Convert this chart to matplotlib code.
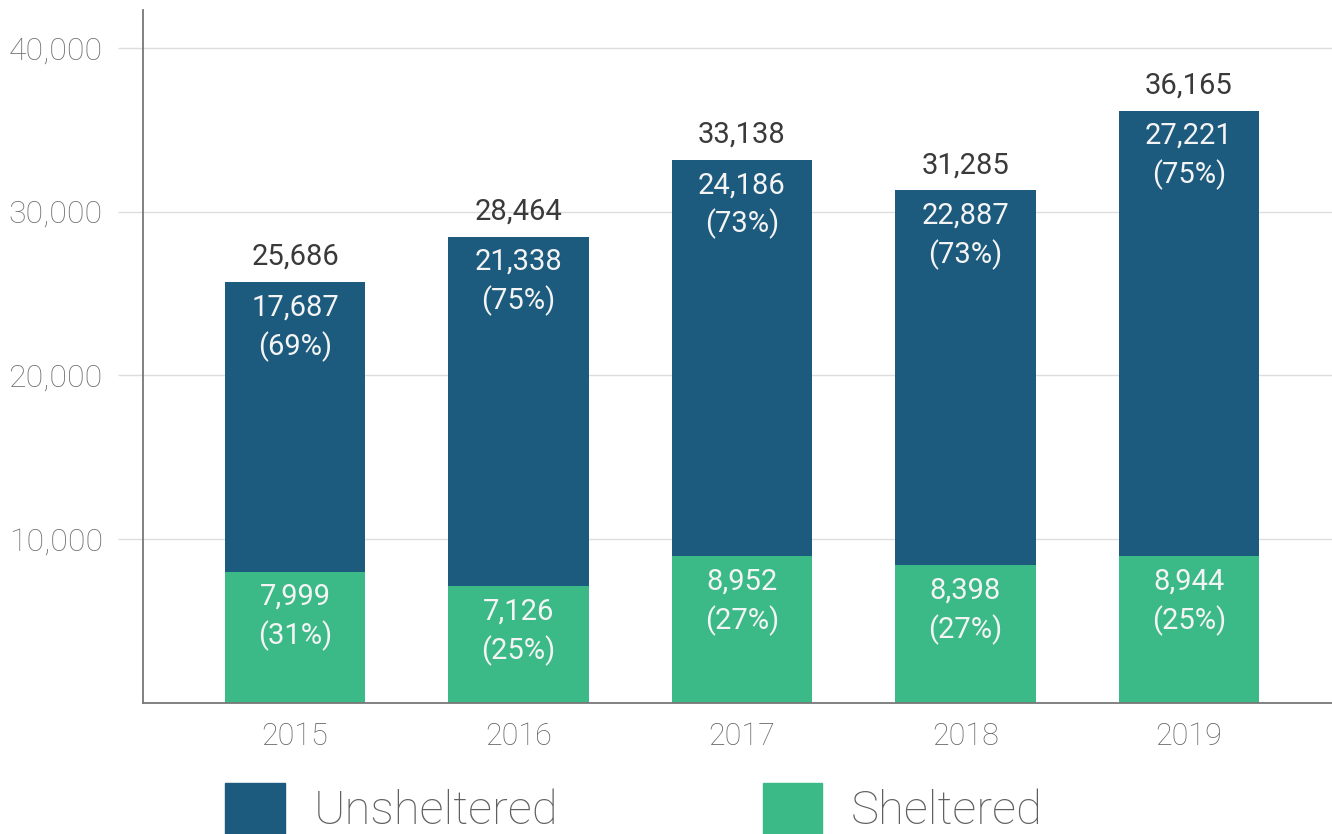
import numpy as np
import matplotlib
matplotlib.use("Agg")
import matplotlib.pyplot as plt
from matplotlib.patches import Patch

plt.rcParams['font.family'] = ['Roboto', 'DejaVu Sans']

# данные
years = ['2015', '2016', '2017', '2018', '2019']
sheltered = np.array([7999, 7126, 8952, 8398, 8944])
unsheltered = np.array([17687, 21338, 24186, 22887, 27221])
totals = sheltered + unsheltered

c_unsh = '#1d5b7e'
c_sh = '#3bba88'
grey = '#777777'

fig = plt.figure(figsize=(13.32, 8.34), dpi=100)
ax = fig.add_axes([0.1074, 0.1571, 0.8926, 0.8309])

x = np.arange(len(years))
w = 0.627
ax.bar(x, sheltered, w, color=c_sh, zorder=2)
ax.bar(x, unsheltered, w, bottom=sheltered, color=c_unsh, zorder=2)

# подписи внутри столбцов и сверху
for i in range(len(years)):
    p_sh = round(sheltered[i] / totals[i] * 100)
    p_un = round(unsheltered[i] / totals[i] * 100)
    ax.annotate(f'{unsheltered[i]:,}\n({p_un}%)', (x[i], totals[i]),
                xytext=(0, -8), textcoords='offset points', ha='center', va='top',
                color='#f4f4f4', fontsize=21, fontweight='normal', linespacing=1.4)
    ax.annotate(f'{sheltered[i]:,}\n({p_sh}%)', (x[i], sheltered[i]),
                xytext=(0, -8), textcoords='offset points', ha='center', va='top',
                color='#f4f4f4', fontsize=21, fontweight='normal', linespacing=1.4)
    ax.annotate(f'{totals[i]:,}', (x[i], totals[i]),
                xytext=(0, 8), textcoords='offset points', ha='center', va='bottom',
                color='#3a3a3a', fontsize=21, fontweight='normal')

ax.set_xlim(-0.68, 4.64)
ax.set_ylim(0, 42300)
ax.set_xticks(x)
ax.set_xticklabels(years)
ax.set_yticks([10000, 20000, 30000, 40000])
ax.set_yticklabels([f'{v:,}' for v in [10000, 20000, 30000, 40000]])
ax.grid(axis='y', color='#dddddd', linewidth=1, zorder=0)
ax.tick_params(axis='y', length=18, color='#dddddd', width=1, pad=11,
               labelsize=23, labelcolor='#707070')
ax.tick_params(axis='x', length=0, pad=14, labelsize=22, labelcolor='#666666')
for lbl in ax.get_xticklabels() + ax.get_yticklabels():
    lbl.set_fontweight('light')

for s in ['top', 'right']:
    ax.spines[s].set_visible(False)
ax.spines['left'].set_color(grey)
ax.spines['bottom'].set_color(grey)
ax.spines['left'].set_linewidth(1.3)
ax.spines['bottom'].set_linewidth(1.3)

# легенда
handles = [Patch(color=c_unsh, label='Unsheltered'), Patch(color=c_sh, label='Sheltered')]
leg = fig.legend(handles=handles, loc='upper left', bbox_to_anchor=(0.169, 0.061),
                 ncol=2, frameon=False, prop={'size': 34, 'weight': 'light'},
                 handlelength=1.27, handleheight=1.27, handletextpad=0.6,
                 columnspacing=4.33, borderpad=0, borderaxespad=0)
for t in leg.get_texts():
    t.set_color('#606060')

fig.savefig('out.png', dpi=100)
